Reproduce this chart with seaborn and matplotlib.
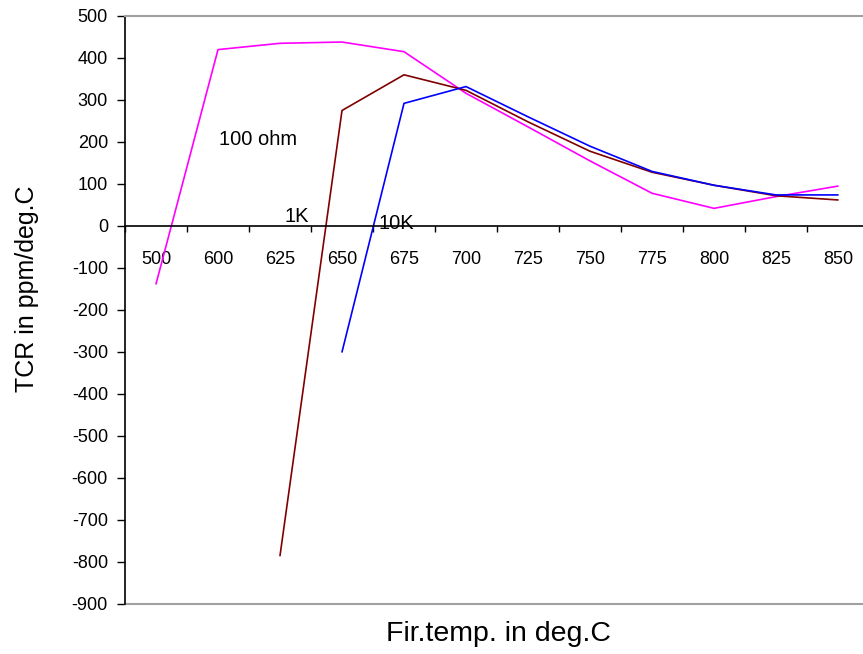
import matplotlib
matplotlib.use("Agg")
import matplotlib.pyplot as plt
import seaborn as sns
import pandas as pd
import numpy as np

# Firing temperatures (categorical axis)
temps = ["500", "600", "625", "650", "675", "700", "725", "750", "775", "800", "825", "850"]

# TCR (ppm/deg.C) per resistor value
ohm100_temps = ["500", "600", "625", "650", "675", "700", "725", "750", "775", "800", "825", "850"]
ohm100_tcr = [-138, 420, 435, 438, 415, 316, 236, 155, 78, 42, 70, 95]

k1_temps = ["625", "650", "675", "700", "725", "750", "775", "800", "825", "850"]
k1_tcr = [-785, 275, 360, 323, 248, 178, 128, 97, 72, 62]

k10_temps = ["650", "675", "700", "725", "750", "775", "800", "825", "850"]
k10_tcr = [-300, 292, 332, 260, 190, 130, 97, 74, 74]

series_names = ["100 ohm", "1K", "10K"]
series_colors = ["#FF00FF", "#800000", "#0000FF"]

frames = []
for name, ts, vals in zip(series_names,
                          [ohm100_temps, k1_temps, k10_temps],
                          [ohm100_tcr, k1_tcr, k10_tcr]):
    frames.append(pd.DataFrame({
        "pos": [temps.index(t) for t in ts],
        "tcr": vals,
        "series": name,
    }))
df = pd.concat(frames, ignore_index=True)

sns.set_style("white")
plt.rcParams["font.family"] = ["Liberation Sans", "DejaVu Sans"]
plt.rcParams["axes.unicode_minus"] = False
plt.rcParams["text.color"] = "black"
plt.rcParams["xtick.color"] = "black"
plt.rcParams["ytick.color"] = "black"

W, H = 863, 654
fig = plt.figure(figsize=(W / 100, H / 100), dpi=100)
left, right, top, bottom = 125, 125 + 744, 16, 604
ax = fig.add_axes([left / W, 1 - bottom / H, (right - left) / W, (bottom - top) / H])

sns.lineplot(data=df, x="pos", y="tcr", hue="series", hue_order=series_names,
             palette=dict(zip(series_names, series_colors)), sort=False,
             estimator=None, linewidth=1.2, legend=False, ax=ax)

ax.set_xlim(-0.5, len(temps) - 0.5)
ax.set_ylim(-900, 500)

# y axis
ax.set_yticks(np.arange(-900, 501, 100))
ax.tick_params(axis="y", direction="out", length=5.8, width=1, colors="black",
               labelsize=13, pad=6.5, left=True)
ax.spines["left"].set_color("black")
ax.spines["left"].set_linewidth(1.2)

# x axis crossing at zero, ticks between categories
ax.spines["bottom"].set_position(("data", 0))
ax.spines["bottom"].set_color("black")
ax.spines["bottom"].set_linewidth(1.2)
ax.set_xticks(np.arange(len(temps)))
ax.set_xticklabels(temps)
ax.set_xticks(np.arange(len(temps) + 1) - 0.5, minor=True)
ax.tick_params(axis="x", which="major", length=0, labelsize=13, pad=18, bottom=True)
ax.tick_params(axis="x", which="minor", direction="out", length=4, width=1,
               colors="black", bottom=True)

ax.spines["top"].set_color("#a0a0a0")
ax.spines["top"].set_linewidth(1.5)
ax.spines["right"].set_visible(False)
ax.axhline(-900, color="#a0a0a0", linewidth=1.5, clip_on=False)

ax.set_xlabel("")
ax.set_ylabel("")
fig.text(27 / W, 1 - 289 / H, "TCR in ppm/deg.C", fontsize=18, rotation=90,
         ha="center", va="center")
fig.text(498 / W, 1 - 634 / H, "Fir.temp. in deg.C", fontsize=20.5,
         ha="center", va="center")

# series labels
ax.text(1.65, 207, "100 ohm", fontsize=14.5, ha="center", va="center")
ax.text(2.27, 22, "1K", fontsize=14.5, ha="center", va="center")
ax.text(3.87, 7, "10K", fontsize=14.5, ha="center", va="center")

fig.savefig("out.png", dpi=100)
